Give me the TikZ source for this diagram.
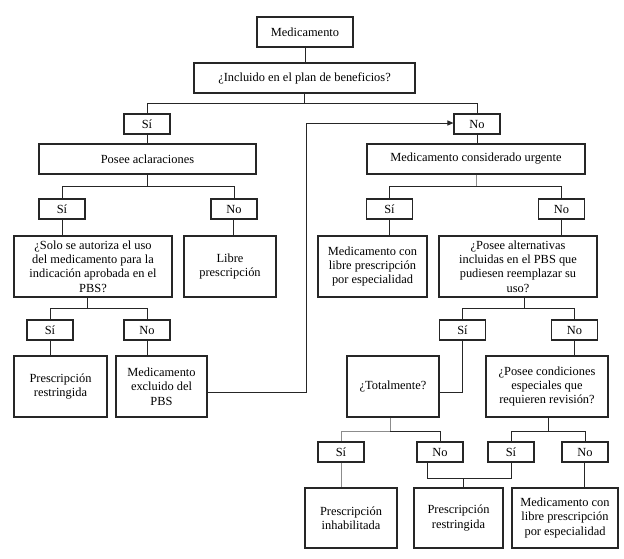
\documentclass[tikz,border=0pt]{standalone}
\usepackage{fontspec}
\setmainfont{Liberation Serif}
\usetikzlibrary{arrows.meta}
\begin{document}
\begin{tikzpicture}[x=1pt,y=-1pt,
  box/.style={draw=black!85, line width=1.1pt, inner sep=0pt, align=center,
    font=\fontsize{12.4}{14.3}\selectfont},
  lab/.style={box, minimum width=46pt, minimum height=20pt},
  conn/.style={draw=black!85, line width=1pt},
  lconn/.style={draw=black!45, line width=1pt}]
\useasboundingbox[fill=white] (0,0) rectangle (624,558);

% top
\node[box, minimum width=96pt, minimum height=30pt] (med) at (305,32) {Medicamento};
\node[box, minimum width=221pt, minimum height=30pt] (incl) at (304.5,78) {¿Incluido en el plan de beneficios?};
\node[lab] (si1) at (147,124) {Sí};
\node[lab] (no1) at (477,124) {No};
\node[box, minimum width=217pt, minimum height=30pt] (posee) at (147.5,159) {Posee aclaraciones};
\node[box, minimum width=218pt, minimum height=30pt] (urg) at (476,159) {Medicamento considerado urgente};

% left branch
\node[lab] (si2) at (62,209) {Sí};
\node[lab] (no2) at (234,209) {No};
\node[box, minimum width=158pt, minimum height=61pt] (solo) at (93,266.5) {¿Solo se autoriza el uso\\del medicamento para la\\indicación aprobada en el\\PBS?};
\node[box, minimum width=92pt, minimum height=61pt] (libre) at (230,266.5) {Libre\\prescripción};
\node[lab] (si3) at (50,330) {Sí};
\node[lab] (no3) at (147,330) {No};
\node[box, minimum width=93pt, minimum height=61pt] (prestr1) at (60.5,386.5) {Prescripción\\restringida};
\node[box, minimum width=91pt, minimum height=61pt] (excl) at (161.5,386.5) {Medicamento\\excluido del\\PBS};

% right branch
\node[lab] (si4) at (389.5,209) {Sí};
\node[lab] (no4) at (561.5,209) {No};
\node[box, minimum width=109pt, minimum height=61pt] (medlibre1) at (372.5,266.5) {Medicamento con\\libre prescripción\\por especialidad};
\node[box, minimum width=158pt, minimum height=61pt] (alt) at (518,266.5) {¿Posee alternativas\\incluidas en el PBS que\\pudiesen reemplazar su\\uso?};
\node[lab] (si5) at (462.5,330) {Sí};
\node[lab] (no5) at (574.5,330) {No};
\node[box, minimum width=92pt, minimum height=61pt] (tot) at (393,386.5) {¿Totalmente?};
\node[box, minimum width=122pt, minimum height=61pt] (cond) at (547,386.5) {¿Posee condiciones\\especiales que\\requieren revisión?};
\node[lab] (si6) at (341,452) {Sí};
\node[lab] (no6) at (440,452) {No};
\node[lab] (si7) at (511,452) {Sí};
\node[lab] (no7) at (585,452) {No};
\node[box, minimum width=92pt, minimum height=60pt] (inhab) at (351,518) {Prescripción\\inhabilitada};
\node[box, minimum width=89pt, minimum height=60pt] (prestr2) at (458.5,518) {Prescripción\\restringida};
\node[box, minimum width=106pt, minimum height=60pt] (medlibre2) at (565,518) {Medicamento con\\libre prescripción\\por especialidad};

% connectors top
\draw[conn] (med.south) -- (med.south |- incl.north);
\coordinate (j1) at ([yshift=-10pt]incl.south);
\draw[conn] (incl.south) -- (j1) -| (si1.north);
\draw[conn] (j1) -| (no1.north);
\draw[conn] (si1.south) -- (si1.south |- posee.north);
\draw[conn] (no1.south) -- (no1.south |- urg.north);

% left
\coordinate (j2) at ([yshift=-12pt]posee.south);
\draw[conn] (posee.south) -- (j2) -| (si2.north);
\draw[conn] (j2) -| (no2.north);
\draw[conn] (si2.south) -- (si2.south |- solo.north);
\draw[conn] ([xshift=-1pt]no2.south) -- ([xshift=-1pt]no2.south |- libre.north);
\coordinate (s3) at ([xshift=-6pt]solo.south);
\coordinate (j3) at ([yshift=-11pt]s3);
\draw[conn] (s3) -- (j3) -| (si3.north);
\draw[conn] (j3) -| (no3.north);
\draw[conn] (si3.south) -- (si3.south |- prestr1.north);
\draw[conn] (no3.south) -- (no3.south |- excl.north);

% arrow from excluded to No
\coordinate (ex) at ([yshift=-5.5pt]excl.east);
\coordinate (up) at (306,0);
\draw[conn, -{Triangle[length=6pt,width=5pt]}] (ex) -- (ex -| up) |- ([yshift=1pt]no1.west);

% right
\coordinate (j4) at ([yshift=-12pt]urg.south);
\draw[lconn] (urg.south) -- (j4);
\draw[conn] (j4) -| (si4.north);
\draw[conn] (j4) -| (no4.north);
\draw[conn] (si4.south) -- (si4.south |- medlibre1.north);
\draw[conn] (no4.south) -- (no4.south |- alt.north);
\coordinate (s5) at ([xshift=6pt]alt.south);
\coordinate (j5) at ([yshift=-11pt]s5);
\draw[conn] (s5) -- (j5) -| (si5.north);
\draw[conn] (j5) -| (no5.north);
\coordinate (t5) at ([yshift=-5.5pt]tot.east);
\draw[conn] (si5.south) |- (t5);
\draw[conn] (no5.south) -- (no5.south |- cond.north);

\coordinate (s6) at ([xshift=-3pt]tot.south);
\coordinate (j6) at ([yshift=-14pt]s6);
\draw[lconn] (s6) -- (j6) -| (si6.north);
\draw[conn] (j6) -| (no6.north);
\draw[lconn] (si6.south) -- (si6.south |- inhab.north);

\coordinate (s7) at ([xshift=1pt]cond.south);
\coordinate (j7) at ([yshift=-14pt]s7);
\draw[conn] (s7) -- (j7) -| (si7.north);
\draw[conn] (j7) -| (no7.north);
\draw[conn] ([xshift=-1pt]no7.south) -- ([xshift=-1pt]no7.south |- medlibre2.north);

\coordinate (n6) at ([xshift=-13pt]no6.south);
\coordinate (m) at ([xshift=4.5pt]prestr2.north);
\draw[conn] (n6) -- (n6 |- 0,478) -| (si7.south);
\draw[conn] (m |- 0,478) -- (m);
\end{tikzpicture}
\end{document}
